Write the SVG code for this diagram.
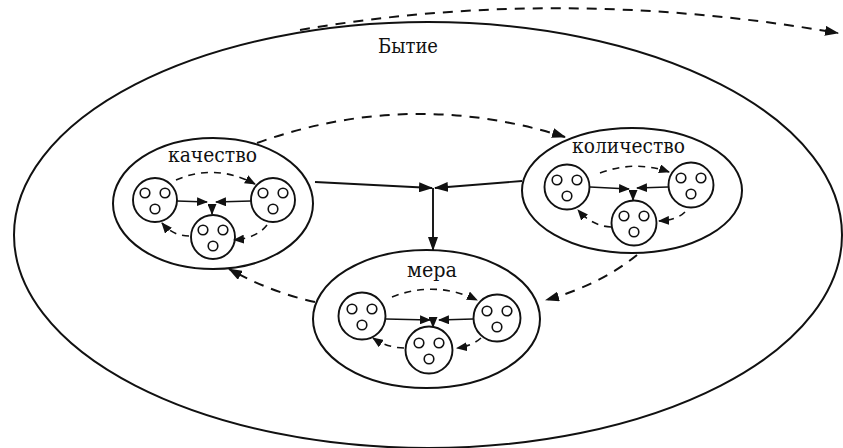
<svg xmlns="http://www.w3.org/2000/svg" xmlns:xlink="http://www.w3.org/1999/xlink" width="843" height="448" viewBox="0 0 843 448">
<style>
.sh{fill:none;stroke:#111;stroke-width:2}
.c{fill:#fff;stroke:#111;stroke-width:1.9}
.dot{fill:none;stroke:#111;stroke-width:1.6}
.ln{fill:none;stroke:#111;stroke-width:1.9}
.ls{fill:none;stroke:#111;stroke-width:1.6}
.dl{fill:none;stroke:#111;stroke-width:2;stroke-dasharray:10 8}
.ds{fill:none;stroke:#111;stroke-width:1.6;stroke-dasharray:7 6}
.lab{font-family:"DejaVu Serif","Liberation Serif",serif;font-size:20px;fill:#111}
</style>
<defs>
<marker id="big" viewBox="0 0 14 10" refX="13" refY="5" markerWidth="14" markerHeight="10" markerUnits="userSpaceOnUse" orient="auto"><path d="M0,0 L14,5 L0,10 z" fill="#111"/></marker>
<marker id="sm" viewBox="0 0 11 9" refX="10" refY="4.5" markerWidth="11" markerHeight="9" markerUnits="userSpaceOnUse" orient="auto"><path d="M0,0 L11,4.5 L0,9 z" fill="#111"/></marker>
<g id="dots"><circle class="dot" cx="-10" cy="-7" r="4.8"/><circle class="dot" cx="10" cy="-7" r="4.8"/><circle class="dot" cx="0" cy="9" r="4.8"/></g>
</defs>
<rect width="843" height="448" fill="#fff"/>

<g id="bytie">
<ellipse class="sh" cx="428" cy="235" rx="414" ry="213"/>
<text class="lab" x="378" y="53" textLength="60" lengthAdjust="spacingAndGlyphs">Бытие</text>
</g>

<g id="kachestvo">
<ellipse class="sh" cx="213" cy="203.5" rx="100" ry="65.5"/>
<text class="lab" x="168" y="162" textLength="89" lengthAdjust="spacingAndGlyphs">качество</text>
<circle class="c" cx="155" cy="200" r="22"/><use xlink:href="#dots" x="155" y="200"/>
<circle class="c" cx="273" cy="200" r="22"/><use xlink:href="#dots" x="273" y="200"/>
<circle class="c" cx="213" cy="237" r="22"/><use xlink:href="#dots" x="213" y="237"/>
<g>
<path class="ls" d="M177 201 L207 202" marker-end="url(#sm)"/>
<path class="ls" d="M251 201 L216 202" marker-end="url(#sm)"/>
<path class="ls" d="M212 204 L212 214" marker-end="url(#sm)"/>
<path class="ds" d="M176 180 Q215 163 255 184" marker-end="url(#sm)"/>
<path class="ds" d="M267 225 Q257 238 234 240" marker-end="url(#sm)"/>
<path class="ds" d="M189 236 Q173 236 162 223" marker-end="url(#sm)"/>
</g>
</g>

<g id="kolichestvo">
<ellipse class="sh" cx="632" cy="190.5" rx="110" ry="62.5"/>
<text class="lab" x="572" y="153" textLength="113" lengthAdjust="spacingAndGlyphs">количество</text>
<circle class="c" cx="567" cy="187" r="22.5"/><use xlink:href="#dots" x="567" y="187"/>
<circle class="c" cx="691" cy="185" r="22.5"/><use xlink:href="#dots" x="691" y="185"/>
<circle class="c" cx="634" cy="223" r="22.5"/><use xlink:href="#dots" x="634" y="223"/>
<g>
<path class="ls" d="M590 187 L629 189" marker-end="url(#sm)"/>
<path class="ls" d="M668 187 L637 188" marker-end="url(#sm)"/>
<path class="ls" d="M633 191 L633 200" marker-end="url(#sm)"/>
<path class="ds" d="M600 173 Q635 160 669 172" marker-end="url(#sm)"/>
<path class="ds" d="M685 212 Q677 220 659 221" marker-end="url(#sm)"/>
<path class="ds" d="M611 227 Q592 226 578 210" marker-end="url(#sm)"/>
</g>
</g>

<g id="mera">
<ellipse class="sh" cx="426.5" cy="319" rx="113.5" ry="69"/>
<text class="lab" x="407" y="277" textLength="50" lengthAdjust="spacingAndGlyphs">мера</text>
<circle class="c" cx="362" cy="316" r="23.5"/><use xlink:href="#dots" x="362" y="316"/>
<circle class="c" cx="497" cy="318" r="23.5"/><use xlink:href="#dots" x="497" y="318"/>
<circle class="c" cx="429" cy="350" r="23.5"/><use xlink:href="#dots" x="429" y="350"/>
<g>
<path class="ls" d="M386 319 L430 320" marker-end="url(#sm)"/>
<path class="ls" d="M473 319 L439 320" marker-end="url(#sm)"/>
<path class="ls" d="M433 319 L433 327" marker-end="url(#sm)"/>
<path class="ds" d="M392 297 Q435 280 477 300" marker-end="url(#sm)"/>
<path class="ds" d="M481 338 Q472 346 457 348" marker-end="url(#sm)"/>
<path class="ds" d="M404 348 Q388 348 373 338" marker-end="url(#sm)"/>
</g>
</g>

<g id="connectors">
<path class="ln" d="M315 182 L432 188" marker-end="url(#big)"/>
<path class="ln" d="M522 181 L435 188" marker-end="url(#big)"/>
<path class="ln" d="M433 188 L433 250" marker-end="url(#big)"/>
<path class="dl" d="M257 143 Q410 88 565 137" marker-end="url(#big)"/>
<path class="dl" d="M637 255 Q600 285 546 300" marker-end="url(#big)"/>
<path class="dl" d="M315 302 Q270 292 229 269" marker-end="url(#big)"/>
<path class="dl" d="M300 30 Q560 -15 838 33" marker-end="url(#big)"/>
</g>
</svg>
